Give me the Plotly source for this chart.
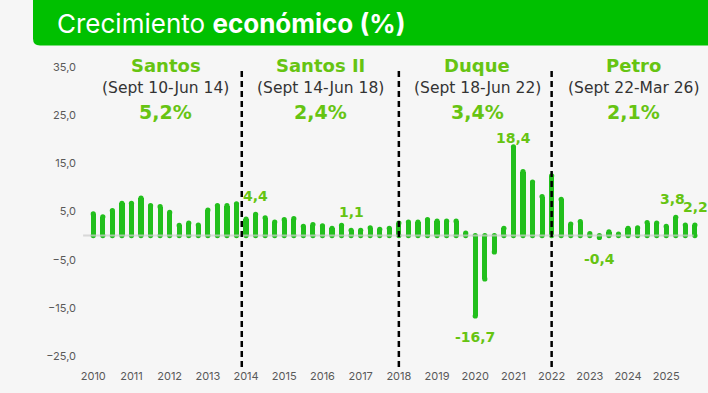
import plotly.graph_objects as go

# ---------------- data ----------------
years = [str(y) for y in range(2010, 2026)]
growth = [
    4.5, 3.9, 5.2, 6.7, 6.7, 7.8, 6.2, 6.0, 4.8, 2.1, 2.6, 2.2, 5.3, 6.2, 6.2, 6.6,
    3.4, 4.4, 3.7, 2.8, 3.3, 3.5, 1.9, 2.3, 2.0, 1.5, 2.1, 1.1, 1.1, 1.6, 1.3, 1.5,
    2.6, 2.8, 2.8, 3.3, 3.0, 3.0, 3.0, 0.5, -16.7, -9.0, -3.4, 1.5, 18.4, 13.3, 11.1, 8.1,
    12.4, 7.5, 2.4, 2.9, 0.4, -0.4, 0.8, 0.3, 1.5, 1.6, 2.7, 2.6, 1.9, 3.8, 2.2, 2.2,
]
label_idx = [17, 27, 40, 44, 53, 61, 63]
gov_names = ["Santos", "Santos II", "Duque", "Petro"]
gov_periods = ["(Sept 10-Jun 14)", "(Sept 14-Jun 18)", "(Sept 18-Jun 22)", "(Sept 22-Mar 26)"]
gov_avg = [5.2, 2.4, 3.4, 2.1]
gov_center = [7.6, 23.8, 40.2, 56.6]
gov_breaks = [15.55, 32, 48]
yticks = [35, 25, 15, 5, -5, -15, -25]

# ---------------- style ----------------
BG = "#f6f6f6"
BAR = "#22bf1c"
LABEL = "#66c412"
TITLEBAR = "#00c000"
W, H = 708, 393
ML, MR, MT, MB = 80, 5, 67, 37
PW = W - ML - MR
PH = H - MT - MB

def fmt(v):
    return f"{v:.1f}".replace(".", ",")

x = list(range(len(growth)))
fig = go.Figure()
fig.add_trace(go.Bar(x=x, y=growth, width=0.54, marker=dict(color=BAR, line=dict(width=0)),
                     hoverinfo="skip"))
# round caps at both ends of every bar
fig.add_trace(go.Scatter(x=x + x, y=[0] * len(x) + growth, mode="markers",
                         marker=dict(color=BAR, size=5.2, symbol="circle", line=dict(width=0)),
                         hoverinfo="skip"))

shapes = []
shapes.append(dict(type="line", xref="paper", yref="y", x0=0.005, x1=0.985, y0=0, y1=0,
                   line=dict(color="rgba(205,205,205,0.75)", width=2), layer="above"))
for b in gov_breaks:
    shapes.append(dict(type="line", xref="x", yref="paper", x0=b, x1=b,
                       y0=-(367 - (MT + PH)) / PH, y1=(MT + PH - 70) / PH,
                       line=dict(color="black", width=2.5, dash="6px,4px"), layer="above"))

def px2x(p):
    return (p - ML) / PW

def py2y(p):
    return (MT + PH - p) / PH

r = 7
x0, x1 = px2x(33), px2x(W + 20)
y0, y1 = py2y(45.5), py2y(-20)
path = (f"M {x0},{y1} L {x1},{y1} L {x1},{y0} L {px2x(33 + r)},{y0} "
        f"Q {x0},{y0} {x0},{py2y(45.5 - r)} Z")
shapes.append(dict(type="path", xref="paper", yref="paper", path=path,
                   fillcolor=TITLEBAR, line=dict(width=0), layer="above"))

ann = []
ann.append(dict(xref="paper", yref="paper", x=px2x(55), y=py2y(23), xanchor="left", yanchor="middle",
                text="Crecimiento <b>económico (%)</b>", showarrow=False,
                font=dict(family="Inter", size=26, color="white")))

for name, per, avg, c in zip(gov_names, gov_periods, gov_avg, gov_center):
    ann.append(dict(xref="x", yref="paper", x=c, y=py2y(66), text=f"<b>{name}</b>", showarrow=False,
                    xanchor="center", yanchor="middle",
                    font=dict(family="DejaVu Sans", size=18, color=LABEL)))
    ann.append(dict(xref="x", yref="paper", x=c, y=py2y(88), text=per, showarrow=False,
                    xanchor="center", yanchor="middle",
                    font=dict(family="DejaVu Sans", size=15.5, color="#333333")))
    ann.append(dict(xref="x", yref="paper", x=c, y=py2y(112), text=f"<b>{fmt(avg)}%</b>", showarrow=False,
                    xanchor="center", yanchor="middle",
                    font=dict(family="DejaVu Sans", size=19, color=LABEL)))

for i in label_idx:
    v = growth[i]
    shift = 18 if v >= 0 else -21
    if v > 15:
        shift = 9
    xs = -3 if i == 61 else (1 if i == 63 else 0)
    ann.append(dict(xref="x", yref="y", x=i, y=v, yshift=shift, xshift=xs, text=f"<b>{fmt(v)}</b>",
                    showarrow=False, xanchor="center", yanchor="middle",
                    font=dict(family="DejaVu Sans", size=14, color=LABEL)))

fig.update_layout(
    width=W, height=H, margin=dict(l=ML, r=MR, t=MT, b=MB),
    paper_bgcolor=BG, plot_bgcolor=BG, showlegend=False, separators=",.",
    shapes=shapes, annotations=ann, bargap=0,
    font=dict(family="Inter", size=11, color="#595959"),
)
fig.update_xaxes(range=[-1.39, 63.85], tickvals=list(range(0, 64, 4)), ticktext=years,
                 showgrid=False, zeroline=False, showline=False, ticks="", ticklabelstandoff=12,
                 tickfont=dict(family="Inter", size=11, color="#595959"))
fig.update_yaxes(range=[-25, 35], tickvals=yticks, tickformat=".1f", showgrid=False,
                 zeroline=False, showline=False, ticks="", ticklabelstandoff=3,
                 tickfont=dict(family="Inter", size=11, color="#595959"))

fig.write_html("out.html")
